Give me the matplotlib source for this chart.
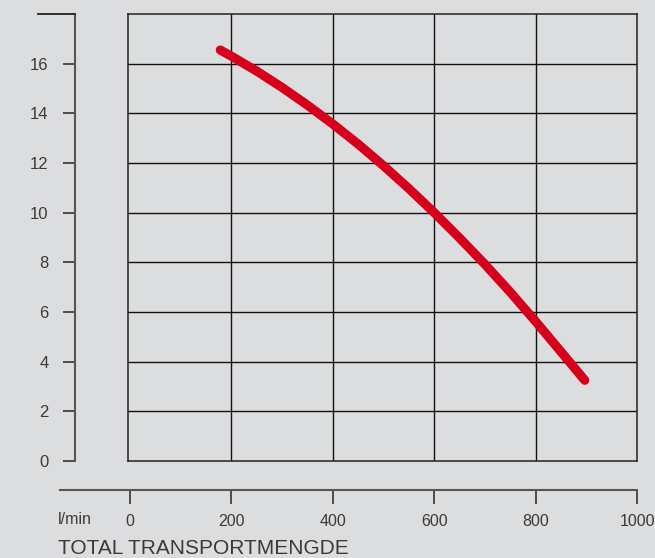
import numpy as np
import matplotlib
matplotlib.use('Agg')
import matplotlib.pyplot as plt

# pump curve (l/min, head)
flow = [178, 200, 250, 300, 350, 400, 450, 500, 550, 600, 650, 700, 750, 800, 850, 897]
head = [16.55, 16.3, 15.7, 15.04, 14.33, 13.57, 12.76, 11.89, 10.97, 10.0,
        8.98, 7.92, 6.8, 5.62, 4.4, 3.25]

x_ticks = [0, 200, 400, 600, 800, 1000]
y_ticks = [0, 2, 4, 6, 8, 10, 12, 14, 16]

bg = '#dcdddf'
ink = '#3a3a3a'
red = '#d7001c'

plt.rcParams['font.family'] = ['Liberation Sans', 'DejaVu Sans']

W, H = 655, 558
fig = plt.figure(figsize=(W / 100, H / 100), dpi=100)
fig.patch.set_facecolor(bg)

def px_box(x0, y0, x1, y1):
    # pixel box (top-left origin) -> figure fraction rect
    return [x0 / W, 1 - y1 / H, (x1 - x0) / W, (y1 - y0) / H]

# main grid area
ax = fig.add_axes(px_box(128, 14, 637, 461))
ax.set_facecolor(bg)
ax.set_xlim(-4, 1000)
ax.set_ylim(0, 18)
ax.set_xticks([200, 400, 600, 800])
ax.set_yticks(y_ticks[1:])
ax.tick_params(length=0, labelleft=False, labelbottom=False)
ax.grid(True, color='#111111', linewidth=1.0)
for s in ax.spines.values():
    s.set_color('#222222')
    s.set_linewidth(1.1)
ax.plot(flow, head, color=red, linewidth=6.6, solid_capstyle='round',
        solid_joinstyle='round', zorder=3)

# left scale
axl = fig.add_axes(px_box(75, 14, 76, 461))
axl.set_facecolor('none')
axl.set_ylim(0, 18)
axl.set_xticks([])
axl.set_yticks(y_ticks)
axl.set_yticklabels([str(v) for v in y_ticks])
for name in ['top', 'right', 'bottom']:
    axl.spines[name].set_visible(False)
axl.spines['left'].set_color('#555555')
axl.spines['left'].set_linewidth(1.5)
axl.tick_params(axis='y', direction='out', length=9, width=1.2, color='#333333',
                pad=10, labelsize=12, labelcolor=ink)
fig.add_artist(plt.Line2D([38 / W, 75 / W], [1 - 14 / H, 1 - 14 / H],
                          color='#222222', linewidth=1.3))

# bottom scale
axb = fig.add_axes(px_box(60, 489, 637, 490))
axb.set_facecolor('none')
axb.set_xlim(-138, 1000)
axb.set_yticks([])
axb.set_xticks(x_ticks)
axb.set_xticklabels([str(v) for v in x_ticks])
for name in ['top', 'right', 'left']:
    axb.spines[name].set_visible(False)
axb.spines['bottom'].set_color('#555555')
axb.spines['bottom'].set_linewidth(1.5)
axb.tick_params(axis='x', direction='out', length=10, width=1.2, color='#333333',
                pad=7, labelsize=11.5, labelcolor=ink)

fig.text(58 / W, 1 - 519 / H, 'l/min', fontsize=11.5, color=ink, va='center', ha='left')
fig.text(58 / W, 1 - 548 / H, 'TOTAL TRANSPORTMENGDE', fontsize=15, color=ink,
         va='center', ha='left')

fig.savefig('out.png', dpi=100, facecolor=bg)
